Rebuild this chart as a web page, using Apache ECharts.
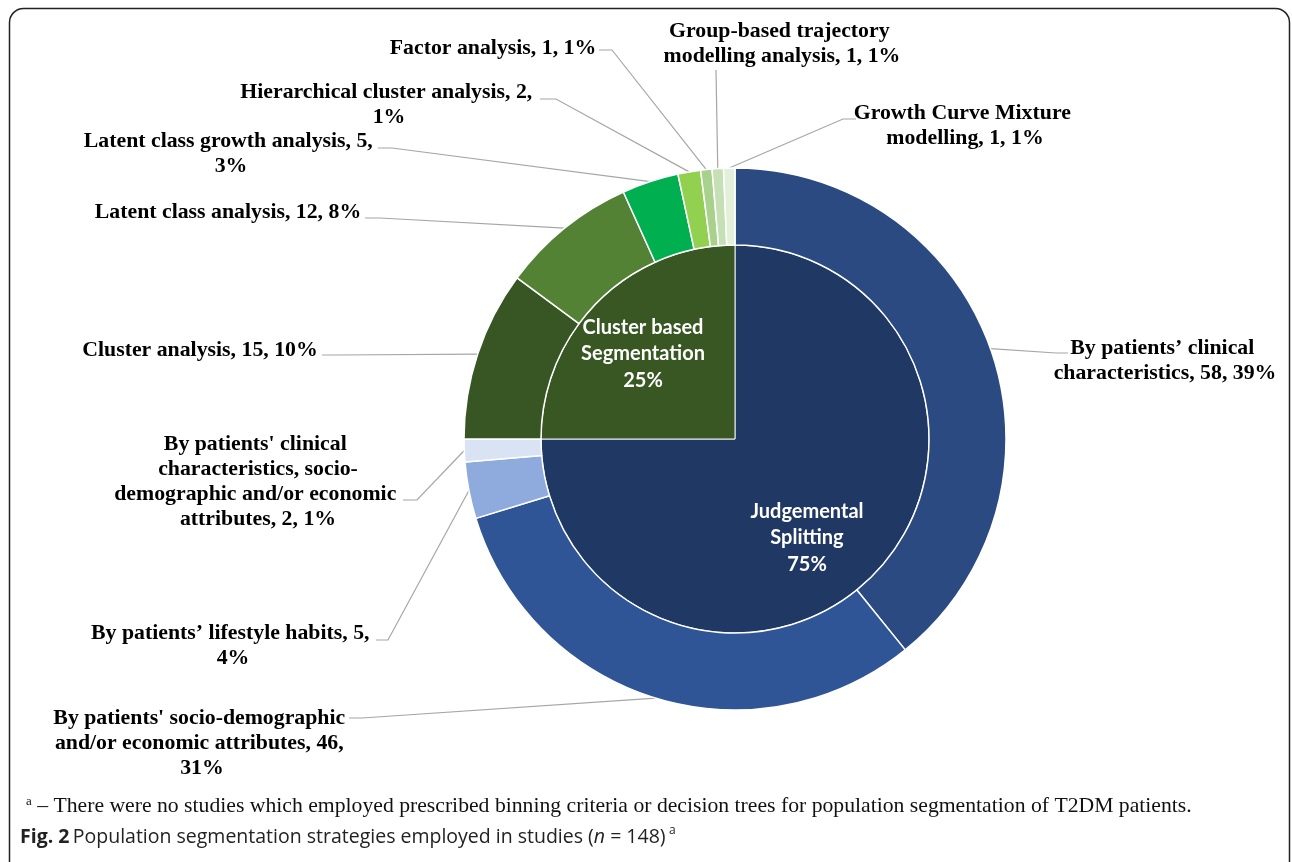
<!DOCTYPE html>
<html>
<head>
<meta charset="utf-8">
<script src="https://cdn.jsdelivr.net/npm/echarts@6/dist/echarts.min.js"></script>
<style>
  html, body { margin: 0; padding: 0; background: #fff; }
  #main { width: 1292px; height: 862px; }
</style>
</head>
<body>
<div id="main"></div>
<script>
// inner ring: the two strategies
var innerNames  = ['Judgemental\nSplitting', 'Cluster based\nSegmentation'];
var innerValues = [111, 37];
var innerPct    = [75, 25];
var innerColors = ['#203864', '#385723'];

// outer ring: methods (clockwise from 12 o'clock)
var outerNames = [
  'By patients’ clinical characteristics',
  "By patients' socio-demographic and/or economic attributes",
  'By patients’ lifestyle habits',
  "By patients' clinical characteristics, socio-\ndemographic and/or economic attributes",
  'Cluster analysis',
  'Latent class analysis',
  'Latent class growth analysis',
  'Hierarchical cluster analysis',
  'Factor analysis',
  'Group-based trajectory modelling analysis',
  'Growth Curve Mixture modelling'
];
var outerValues = [58, 46, 5, 2, 15, 12, 5, 2, 1, 1, 1];
var outerPct    = [39, 31, 4, 1, 10, 8, 3, 1, 1, 1, 1];
var outerColors = ['#2B4A81', '#2F5597', '#8FAADC', '#DAE3F3', '#375623', '#548235',
                   '#00B050', '#92D050', '#A9D18E', '#C5E0B4', '#E2F0D9'];

// where each outer label sits (text centre, wrap width, line end + elbow)
var outerLabelPos = [
  {x: 1165, y: 361, w: 240, ex: 1068, ey: 353, kx: 1056},
  {x: 202,  y: 743, w: 312, ex: 349,  ey: 718, kx: 362},
  {x: 233,  y: 646, w: 302, ex: 376,  ey: 640, kx: 388},
  {x: 258,  y: 482, w: 292, ex: 403,  ey: 500, kx: 417},
  {x: 200,  y: 350, w: 300, ex: 322,  ey: 355, kx: 336},
  {x: 228,  y: 212, w: 300, ex: 365,  ey: 218, kx: 380},
  {x: 231,  y: 154, w: 300, ex: 378,  ey: 148, kx: 392},
  {x: 389,  y: 105, w: 302, ex: 540,  ey: 99,  kx: 556},
  {x: 493,  y: 48,  w: 260, ex: 599,  ey: 50,  kx: 612},
  {x: 782,  y: 44,  w: 248, ex: 716,  ey: 70,  kx: 716},
  {x: 965,  y: 126, w: 240, ex: 856,  ey: 119, kx: 843}
];
var innerLabelPos = [{x: 807, y: 538}, {x: 643, y: 354}];

var chart = echarts.init(document.getElementById('main'));

var option = {
  backgroundColor: '#fff',
  animation: false,
  graphic: [
    {
      type: 'rect', silent: true,
      shape: {x: 9.5, y: 8.5, width: 1280, height: 900, r: 14},
      style: {fill: null, stroke: '#222', lineWidth: 1.5}
    },
    {
      type: 'text', silent: true, left: 26, top: 795,
      style: {
        text: '{s|a}{t| – There were no studies which employed prescribed binning criteria or decision trees for population segmentation of T2DM patients.}',
        rich: {
          s: {fontFamily: 'Liberation Serif', fontSize: 13, verticalAlign: 'top', fill: '#111', padding: [0, 0, 9, 0]},
          t: {fontFamily: 'Liberation Serif', fontSize: 21.7, fill: '#111'}
        }
      }
    },
    {
      type: 'text', silent: true, left: 20, top: 825,
      style: {
        text: '{b|Fig. 2} {t|Population segmentation strategies employed in studies (}{i|n}{t| = 148)} {s|a}',
        rich: {
          b: {fontFamily: 'Open Sans', fontWeight: 'bold', fontSize: 19.5, fill: '#222'},
          t: {fontFamily: 'Open Sans', fontSize: 19.5, fill: '#222'},
          i: {fontFamily: 'Open Sans', fontStyle: 'italic', fontSize: 19.5, fill: '#222'},
          s: {fontFamily: 'Open Sans', fontSize: 12, fill: '#222', padding: [0, 0, 12, 0]}
        }
      }
    }
  ],
  series: [
    {
      name: 'Strategy',
      type: 'pie',
      center: [735, 439],
      radius: [0, 194],
      startAngle: 90,
      clockwise: true,
      avoidLabelOverlap: false,
      silent: true,
      itemStyle: {borderColor: '#f2f2f2', borderWidth: 1},
      label: {
        position: 'inside',
        color: '#fff',
        fontFamily: 'Lato',
        fontWeight: 'bold',
        fontSize: 20,
        lineHeight: 26.5,
        formatter: function (p) { return p.name + '\n' + innerPct[p.dataIndex] + '%'; }
      },
      labelLine: {show: false},
      labelLayout: function (p) {
        var L = innerLabelPos[p.dataIndex];
        return {x: L.x, y: L.y, align: 'center', verticalAlign: 'middle'};
      },
      data: innerNames.map(function (n, i) {
        return {name: n, value: innerValues[i], itemStyle: {color: innerColors[i]}};
      })
    },
    {
      name: 'Method',
      type: 'pie',
      center: [735, 439],
      radius: [194, 271],
      startAngle: 90,
      clockwise: true,
      avoidLabelOverlap: false,
      silent: true,
      itemStyle: {borderColor: '#fff', borderWidth: 1.5},
      label: {
        position: 'outside',
        color: '#000',
        fontFamily: 'Liberation Serif',
        fontWeight: 'bold',
        fontSize: 21.8,
        lineHeight: 25,
        overflow: 'break',
        formatter: function (p) {
          return p.name + ', ' + p.value + ', ' + outerPct[p.dataIndex] + '%';
        }
      },
      labelLine: {show: true, length: 20, length2: 12, lineStyle: {color: '#A6A6A6', width: 1.2}},
      labelLayout: function (p) {
        var L = outerLabelPos[p.dataIndex];
        var s = p.labelLinePoints[0];
        return {
          x: L.x, y: L.y, align: 'center', verticalAlign: 'middle', width: L.w,
          labelLinePoints: [s, [L.kx, L.ey], [L.ex, L.ey]]
        };
      },
      data: outerNames.map(function (n, i) {
        return {name: n, value: outerValues[i], itemStyle: {color: outerColors[i]}};
      })
    }
  ]
};

chart.setOption(option);
</script>
</body>
</html>
